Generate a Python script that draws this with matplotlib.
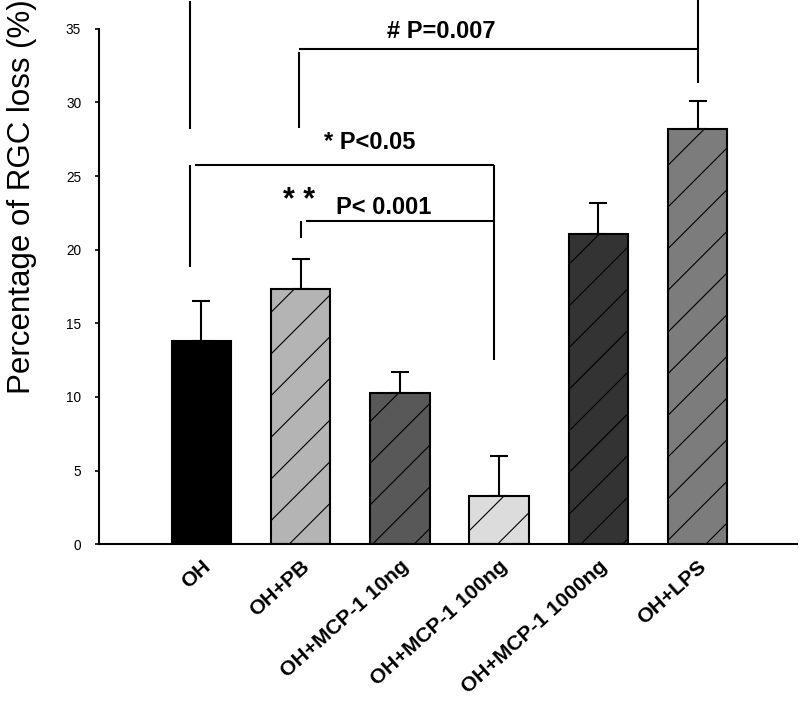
import numpy as np
import matplotlib
matplotlib.use("Agg")
import matplotlib.pyplot as plt

# drawn at dpi 125 so the hatch spacing matches; sizes below are scaled by k
DPI = 125
k = 100 / DPI

plt.rcParams['font.family'] = ['Liberation Sans', 'DejaVu Sans']
plt.rcParams['hatch.color'] = 'black'
plt.rcParams['hatch.linewidth'] = 0.8 * k

# data
groups = ['OH', 'OH+PB', 'OH+MCP-1 10ng', 'OH+MCP-1 100ng', 'OH+MCP-1 1000ng', 'OH+LPS']
loss = [13.8, 17.3, 10.3, 3.3, 21.1, 28.2]
sem = [2.7, 2.1, 1.4, 2.7, 2.1, 1.9]
colors = ['#000000', '#b4b4b4', '#585858', '#dcdcdc', '#333333', '#7c7c7c']
hatches = ['', '/', '/', '/', '/', '/']
yticks = [0, 5, 10, 15, 20, 25, 30, 35]

fig = plt.figure(figsize=(800 / DPI, 704 / DPI), dpi=DPI)
ax = fig.add_axes([0.124, 0.227, 0.872, 0.732])

x = np.arange(len(groups))
bars = ax.bar(x, loss, width=0.6, color=colors, edgecolor='black', linewidth=1.5 * k, zorder=2)
for b, h in zip(bars, hatches):
    b.set_hatch(h)
ax.errorbar(x, loss, yerr=[np.zeros(len(sem)), sem], fmt='none', ecolor='black',
            elinewidth=1.5 * k, capsize=6.5 * k, capthick=1.5 * k, zorder=1)

ax.set_xlim(-1.03, 6.0)
ax.set_ylim(0, 35)
ax.set_yticks(yticks)
ax.set_yticklabels([str(t) for t in yticks], fontsize=9.8 * k)
ax.tick_params(axis='y', length=3 * k, width=1.2 * k, pad=10 * k)
ax.set_xticks(x)
ax.set_xticklabels(groups, rotation=42, ha='right', va='top', rotation_mode='anchor',
                   fontsize=15.2 * k, fontweight='bold')
ax.tick_params(axis='x', length=0, pad=9 * k)
for s in ['top', 'right']:
    ax.spines[s].set_visible(False)
for s in ['left', 'bottom']:
    ax.spines[s].set_linewidth(1.5 * k)

fig.text(0.028, 0.72, 'Percentage of RGC loss (%)', rotation=90, ha='center', va='center',
         fontsize=22.5 * k)

# significance brackets
def seg(xs, ys):
    ax.plot(xs, ys, color='black', lw=1.5 * k, clip_on=False, solid_capstyle='butt')

seg([-0.11, -0.11], [28.2, 36.9])
seg([0.98, 0.98], [28.3, 33.45])
seg([0.98, 5.0], [33.65, 33.65])
seg([5.0, 5.0], [31.3, 37.0])
seg([-0.11, -0.11], [18.8, 25.75])
seg([-0.06, 2.95], [25.75, 25.75])
seg([2.95, 2.95], [12.5, 25.75])
seg([1.0, 1.0], [20.8, 21.95])
seg([1.05, 2.95], [21.95, 21.95])

ax.text(2.42, 34.8, '# P=0.007', ha='center', va='center', fontsize=17 * k, fontweight='bold')
ax.text(1.7, 27.3, '* P<0.05', ha='center', va='center', fontsize=17 * k, fontweight='bold')
ax.text(0.98, 23.3, '* *', ha='center', va='center', fontsize=22 * k, fontweight='bold')
ax.text(1.84, 22.9, 'P< 0.001', ha='center', va='center', fontsize=17 * k, fontweight='bold')

fig.savefig('out.png', dpi=DPI)
